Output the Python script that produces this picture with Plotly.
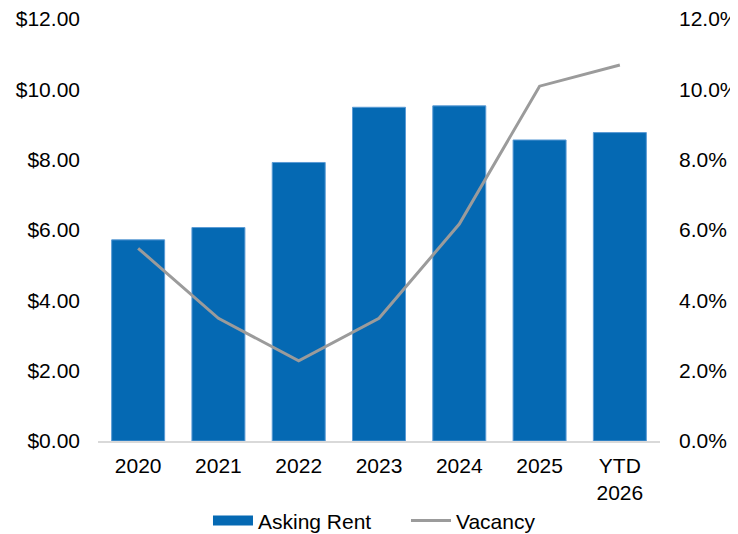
import plotly.graph_objects as go

categories = ["2020", "2021", "2022", "2023", "2024", "2025", "YTD<br>2026"]
asking_rent = [5.72, 6.07, 7.92, 9.49, 9.53, 8.56, 8.77]
vacancy = [0.0548, 0.0349, 0.0228, 0.0349, 0.0617, 0.1009, 0.1069]
left_ticks = [0, 2, 4, 6, 8, 10, 12]
right_ticks = [0, 0.02, 0.04, 0.06, 0.08, 0.10, 0.12]

BAR_COLOR = "#0569B3"
LINE_COLOR = "#9B9B9B"
FONT = dict(family="Liberation Sans, Arial, sans-serif", size=21, color="#000000")

fig = go.Figure()
fig.add_trace(go.Bar(
    x=categories, y=asking_rent, name="Asking Rent",
    marker=dict(color=BAR_COLOR, line=dict(color="#5B9BD5", width=1)),
    showlegend=False, yaxis="y",
))
# legend entry for the bars, drawn as a thick line to mimic the wide swatch
fig.add_trace(go.Scatter(
    x=[None], y=[None], mode="lines", name="Asking Rent",
    line=dict(color=BAR_COLOR, width=10), yaxis="y",
))
fig.add_trace(go.Scatter(
    x=categories, y=vacancy, name="Vacancy", mode="lines",
    line=dict(color=LINE_COLOR, width=3), yaxis="y2",
))

# page body has an 8px margin, so the figure is sized to fit the window
fig.update_layout(
    width=730, height=526,
    margin=dict(l=90, r=78, t=11, b=93, autoexpand=False),
    paper_bgcolor="white", plot_bgcolor="white",
    font=FONT,
    bargap=0.34,
    xaxis=dict(
        showgrid=False, showline=True, linecolor="#D9D9D9", linewidth=1.5,
        ticks="", ticklabelstandoff=5, tickfont=FONT, automargin=False,
    ),
    yaxis=dict(
        range=[0, 12], tickvals=left_ticks, tickformat="$.2f",
        showgrid=False, zeroline=False, showline=False, ticks="",
        ticklabelstandoff=17, tickfont=FONT, automargin=False,
        ticklabeloverflow="allow",
    ),
    yaxis2=dict(
        range=[0, 0.12], tickvals=right_ticks, tickformat=".1%",
        overlaying="y", side="right",
        showgrid=False, zeroline=False, showline=False, ticks="",
        ticklabelstandoff=18, tickfont=FONT, automargin=False,
        ticklabeloverflow="allow",
    ),
    legend=dict(
        orientation="h", x=0.1957, xanchor="left",
        yref="container", y=0.025, yanchor="middle",
        font=FONT, itemwidth=40, traceorder="normal", entrywidth=143,
    ),
)

fig.write_html("out.html")
